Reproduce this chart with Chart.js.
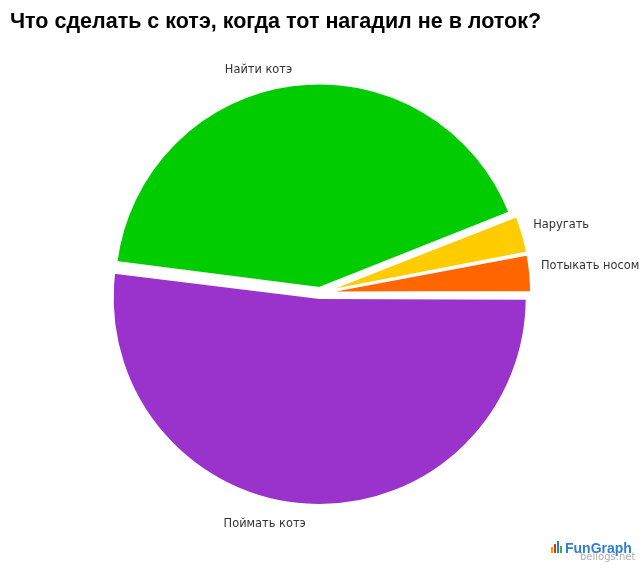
<!DOCTYPE html>
<html>
<head>
<meta charset="utf-8">
<script src="https://cdn.jsdelivr.net/npm/chart.js"></script>
<style>
  html, body { margin: 0; padding: 0; background: #fff; }
  #wrap { width: 640px; height: 565px; position: relative; }
</style>
</head>
<body>
<div id="wrap"><canvas id="chart-cat"></canvas></div>
<script>
const titleText = 'Что сделать с котэ, когда тот нагадил не в лоток?'
const categories = ['Поймать котэ', 'Найти котэ', 'Наругать', 'Потыкать носом']
const values = [52, 42, 3, 3]
const colors = ['#9933CC', '#00CC00', '#FFCC00', '#FF6600']

// title drawn at a fixed spot so it doesn't eat into the pie area
const titlePlugin = {
    id: 'titlePlugin',
    afterDraw(chart) {
        const ctx = chart.ctx
        ctx.save()
        ctx.font = 'bold 21.5px Arial, "Liberation Sans", sans-serif'
        ctx.fillStyle = '#000'
        ctx.textAlign = 'left'
        ctx.textBaseline = 'alphabetic'
        ctx.fillText(titleText, 10, 28)
        ctx.restore()
    }
}

// slice labels drawn just outside each arc
const sliceLabels = {
    id: 'sliceLabels',
    afterDatasetsDraw(chart) {
        const ctx = chart.ctx
        const arcs = chart.getDatasetMeta(0).data
        ctx.save()
        ctx.font = '11.4px "DejaVu Sans", Verdana, sans-serif'
        ctx.fillStyle = '#333'
        arcs.forEach((arc, i) => {
            const { x, y, startAngle, endAngle, outerRadius } = arc.getProps(['x', 'y', 'startAngle', 'endAngle', 'outerRadius'], true)
            const mid = (startAngle + endAngle) / 2
            const cos = Math.cos(mid), sin = Math.sin(mid)
            const r = outerRadius + (sin > 0.5 ? 24 : 20)
            const px = x + cos * r
            const py = y + sin * r
            ctx.textAlign = cos < 0 ? 'right' : 'left'
            if (Math.abs(cos) > 0.7) ctx.textBaseline = 'bottom'
            else ctx.textBaseline = sin < 0 ? 'alphabetic' : 'top'
            ctx.fillText(categories[i], px, py)
        })
        ctx.restore()
    }
}

const watermark = {
    id: 'watermark',
    afterDraw(chart) {
        const ctx = chart.ctx
        ctx.save()
        const bars = [['#f0a000', 6], ['#e03020', 9], ['#2f7fd0', 12], ['#40b040', 7]]
        bars.forEach(([c, h], i) => {
            ctx.fillStyle = c
            ctx.fillRect(551 + i * 3, 553 - h, 2, h)
        })
        ctx.textBaseline = 'alphabetic'
        ctx.textAlign = 'left'
        ctx.font = 'bold 14px Arial, "Liberation Sans", sans-serif'
        ctx.fillStyle = '#2f7fd0'
        ctx.fillText('FunGraph', 565, 553)
        ctx.font = '10px "DejaVu Sans", sans-serif'
        ctx.fillStyle = 'rgba(120,120,120,0.6)'
        ctx.fillText('bellogs.net', 580, 560)
        ctx.restore()
    }
}

new Chart(document.getElementById('chart-cat'), {
    type: 'pie',
    data: {
        labels: categories,
        datasets: [{
            data: values,
            backgroundColor: colors,
            borderColor: '#fff',
            borderWidth: 2,
            offset: 20
        }]
    },
    options: {
        responsive: true,
        maintainAspectRatio: false,
        animation: false,
        rotation: 90,
        layout: {
            padding: { left: 107, right: 107, top: 80, bottom: 59 }
        },
        plugins: {
            legend: { display: false },
            tooltip: { enabled: false },
            title: { display: false }
        }
    },
    plugins: [titlePlugin, sliceLabels, watermark]
})
</script>
</body>
</html>
